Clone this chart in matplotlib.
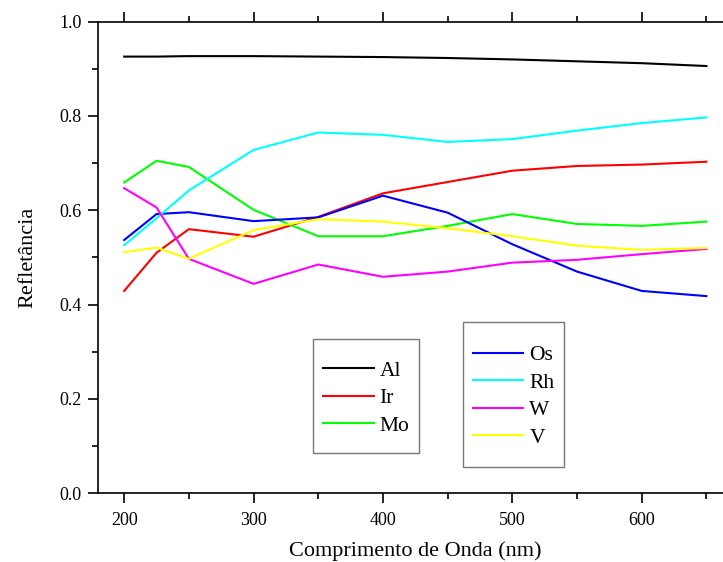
import numpy as np
import matplotlib
matplotlib.use('Agg')
import matplotlib.pyplot as plt
from matplotlib.patches import Rectangle
from matplotlib.ticker import MultipleLocator, FormatStrFormatter

plt.rcParams['font.family'] = ['Liberation Serif', 'DejaVu Serif']

# wavelength (nm)
wavelength = [200, 225, 250, 300, 350, 400, 450, 500, 550, 600, 650]

# reflectance per material
al = [0.926, 0.926, 0.927, 0.927, 0.926, 0.925, 0.923, 0.920, 0.916, 0.912, 0.906]
ir = [0.429, 0.510, 0.560, 0.544, 0.586, 0.636, 0.660, 0.684, 0.694, 0.697, 0.703]
mo = [0.659, 0.705, 0.692, 0.601, 0.545, 0.545, 0.567, 0.592, 0.571, 0.567, 0.576]
os_ = [0.537, 0.592, 0.596, 0.577, 0.585, 0.631, 0.595, 0.528, 0.470, 0.429, 0.418]
rh = [0.526, 0.583, 0.642, 0.728, 0.765, 0.760, 0.745, 0.751, 0.769, 0.785, 0.797]
w = [0.647, 0.606, 0.497, 0.444, 0.485, 0.459, 0.470, 0.489, 0.495, 0.507, 0.518]
v = [0.511, 0.521, 0.497, 0.558, 0.581, 0.576, 0.562, 0.545, 0.525, 0.516, 0.520]

group1 = [('Al', al, '#000000'), ('Ir', ir, '#ff0000'), ('Mo', mo, '#00ff00')]
group2 = [('Os', os_, '#0000ff'), ('Rh', rh, '#00ffff'),
          ('W', w, '#ff00ff'), ('V', v, '#ffff00')]

W_PX, H_PX = 723, 562
fig = plt.figure(figsize=(W_PX / 100, H_PX / 100), dpi=100)
# axes runs past the right edge, as in the original (cropped) image
ax = fig.add_axes([98.3 / W_PX, 1 - 493.2 / H_PX, 634 / W_PX, 471.5 / H_PX])

lines1 = []
for name, vals, col in group1:
    ln, = ax.plot(wavelength, vals, color=col, lw=1.5, label=name)
    lines1.append(ln)
lines2 = []
for name, vals, col in group2:
    ln, = ax.plot(wavelength, vals, color=col, lw=1.5, label=name)
    lines2.append(ln)

ax.set_xlim(180, 670)
ax.set_ylim(0.0, 1.0)
ax.xaxis.set_major_locator(MultipleLocator(100))
ax.xaxis.set_minor_locator(MultipleLocator(50))
ax.yaxis.set_major_locator(MultipleLocator(0.2))
ax.yaxis.set_minor_locator(MultipleLocator(0.1))
ax.yaxis.set_major_formatter(FormatStrFormatter('%.1f'))

ax.tick_params(which='both', direction='out', top=True, right=False,
               labelsize=13, width=1.2)
ax.tick_params(which='major', length=7)
ax.tick_params(which='minor', length=4)
ax.tick_params(axis='x', pad=6.5)
ax.tick_params(axis='y', pad=5)
for sp in ax.spines.values():
    sp.set_linewidth(1.2)

ax.set_xlabel('Comprimento de Onda (nm)', fontsize=16, labelpad=9)
ax.set_ylabel('Refletância', fontsize=16, labelpad=16)

# legends with hand-drawn boxes
def legend_box(handles, cx, cy, bw, bh):
    leg = ax.legend(handles=handles, loc='center', frameon=False,
                    bbox_to_anchor=(cx / W_PX, 1 - (cy + 2) / H_PX),
                    bbox_transform=fig.transFigure, fontsize=15.5,
                    handlelength=2.35, handletextpad=0.28, labelspacing=0.34)
    fig.patches.append(Rectangle(((cx - bw / 2) / W_PX, 1 - (cy + bh / 2) / H_PX),
                                 bw / W_PX, bh / H_PX, transform=fig.transFigure,
                                 fill=False, edgecolor='#777777', lw=1.0))
    return leg

leg1 = legend_box(lines1, 366.3, 396.3, 106, 114)
ax.add_artist(leg1)
legend_box(lines2, 513.7, 394.5, 100.7, 145.6)

fig.savefig('out.png', dpi=100)
